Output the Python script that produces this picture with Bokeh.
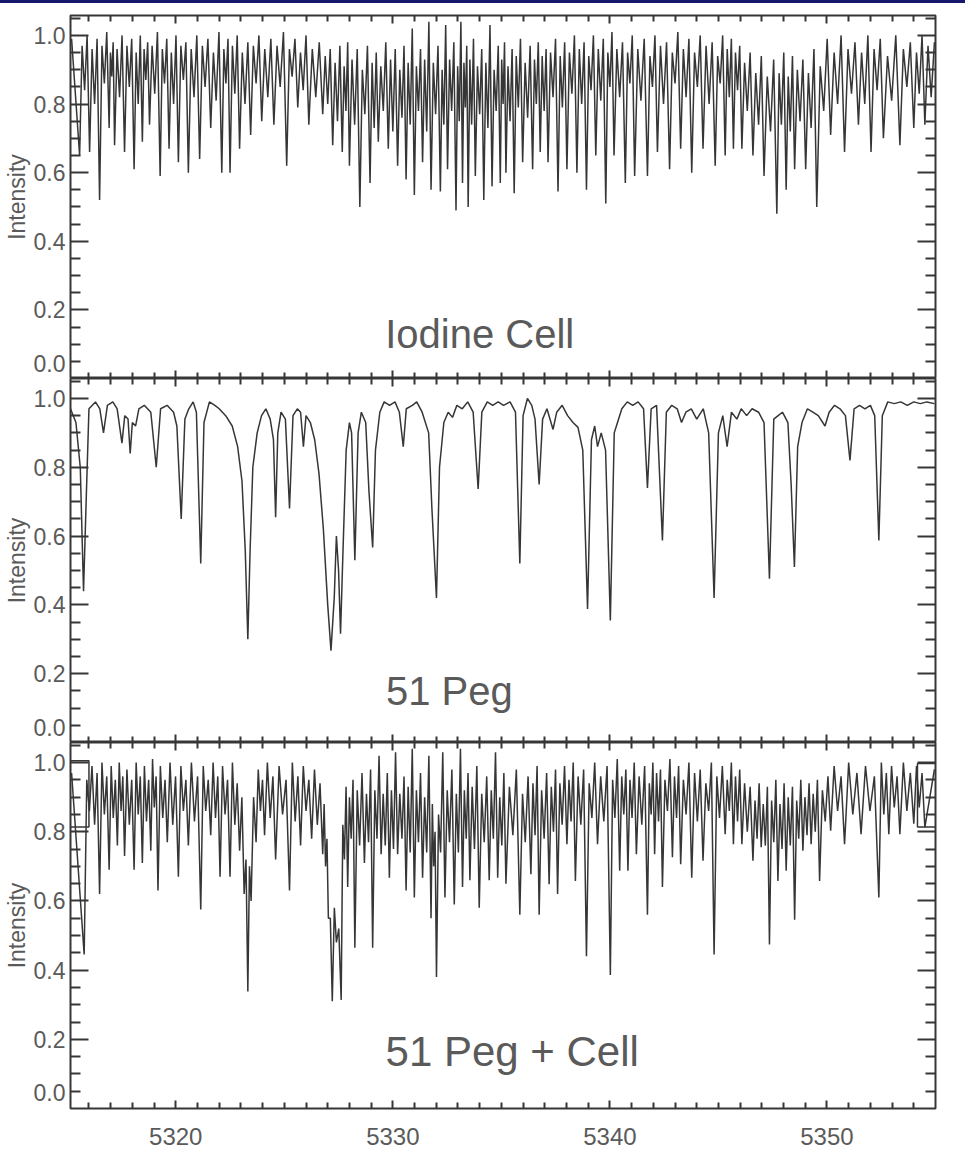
from bokeh.plotting import figure
from bokeh.models import (Range1d, LinearAxis, FixedTicker, PrintfTickFormatter,
                          Label, Div, ColumnDataSource)
from bokeh.layouts import column
from bokeh.embed import file_html
from bokeh.resources import INLINE

# ---------------- data ----------------
x_ticks = [5320, 5330, 5340, 5350]
x_minor = [5316, 5317, 5318, 5319, 5321, 5322, 5323, 5324, 5325, 5326, 5327, 5328, 5329,
           5331, 5332, 5333, 5334, 5335, 5336, 5337, 5338, 5339, 5341, 5342, 5343, 5344,
           5345, 5346, 5347, 5348, 5349, 5351, 5352, 5353, 5354]
y_ticks = [0.2, 0.4, 0.6, 0.8, 1.0]
# tick-label anchors (the "0.0" label is drawn slightly above the panel's bottom edge)
y_label_pos = [0.045, 0.2, 0.4, 0.6, 0.8, 1.0]
y_minor = [0.05, 0.1, 0.15, 0.25, 0.3, 0.35, 0.45, 0.5, 0.55, 0.65, 0.7, 0.75,
           0.85, 0.9, 0.95, 1.05]
panel_titles = ["Iodine Cell", "51 Peg", "51 Peg + Cell"]
spectrum_start = 5315.2
spectrum_end = 5354.95

# Iodine cell: absorption minima (wavelength, intensity) and the peak levels between them
iodine_line_wl = [
    5315.57, 5315.80, 5316.03, 5316.26, 5316.49, 5316.71, 5316.93, 5317.05, 5317.18, 5317.41,
    5317.64, 5317.86, 5318.08, 5318.27, 5318.46, 5318.62, 5318.79, 5319.03, 5319.28, 5319.48,
    5319.69, 5319.90, 5320.12, 5320.35, 5320.58, 5320.84, 5321.10, 5321.35, 5321.61, 5321.86,
    5322.12, 5322.31, 5322.50, 5322.72, 5322.94, 5323.19, 5323.45, 5323.70, 5323.96, 5324.24,
    5324.52, 5324.81, 5325.11, 5325.36, 5325.62, 5325.87, 5326.13, 5326.45, 5326.77, 5327.00,
    5327.23, 5327.45, 5327.67, 5327.84, 5328.00, 5328.24, 5328.48, 5328.71, 5328.95, 5329.14,
    5329.33, 5329.56, 5329.79, 5330.00, 5330.22, 5330.42, 5330.61, 5330.80, 5330.99, 5331.18,
    5331.37, 5331.56, 5331.76, 5331.97, 5332.19, 5332.35, 5332.52, 5332.71, 5332.91, 5333.06,
    5333.21, 5333.34, 5333.47, 5333.63, 5333.80, 5334.00, 5334.19, 5334.38, 5334.57, 5334.76,
    5334.95, 5335.08, 5335.21, 5335.40, 5335.59, 5335.78, 5335.98, 5336.21, 5336.44, 5336.61,
    5336.79, 5336.97, 5337.15, 5337.38, 5337.61, 5337.81, 5338.02, 5338.25, 5338.48, 5338.70,
    5338.92, 5339.13, 5339.35, 5339.58, 5339.81, 5340.00, 5340.19, 5340.45, 5340.71, 5340.92,
    5341.14, 5341.43, 5341.73, 5341.96, 5342.19, 5342.47, 5342.75, 5343.00, 5343.26, 5343.51,
    5343.77, 5344.03, 5344.29, 5344.57, 5344.85, 5345.08, 5345.31, 5345.50, 5345.69, 5345.88,
    5346.08, 5346.33, 5346.59, 5346.85, 5347.10, 5347.40, 5347.69, 5347.90, 5348.12, 5348.31,
    5348.51, 5348.76, 5349.02, 5349.27, 5349.53, 5349.85, 5350.17, 5350.49, 5350.81, 5351.13,
    5351.45, 5351.74, 5352.03, 5352.31, 5352.60, 5352.98, 5353.36, 5353.68, 5354.00, 5354.25,
    5354.51, 5354.80]
iodine_line_flux = [
    0.65, 0.84, 0.66, 0.80, 0.52, 0.86, 0.73, 0.88, 0.68, 0.82,
    0.66, 0.85, 0.61, 0.80, 0.69, 0.87, 0.74, 0.83, 0.59, 0.86,
    0.67, 0.80, 0.63, 0.87, 0.60, 0.82, 0.64, 0.85, 0.73, 0.81,
    0.60, 0.86, 0.60, 0.83, 0.67, 0.80, 0.71, 0.86, 0.75, 0.82,
    0.74, 0.85, 0.62, 0.88, 0.79, 0.84, 0.74, 0.82, 0.77, 0.80,
    0.68, 0.75, 0.66, 0.78, 0.62, 0.74, 0.50, 0.77, 0.57, 0.73,
    0.69, 0.78, 0.67, 0.72, 0.62, 0.76, 0.58, 0.74, 0.535, 0.78,
    0.63, 0.72, 0.55, 0.77, 0.545, 0.74, 0.61, 0.78, 0.49, 0.75,
    0.57, 0.79, 0.50, 0.74, 0.59, 0.77, 0.52, 0.73, 0.56, 0.78,
    0.57, 0.80, 0.60, 0.75, 0.54, 0.79, 0.63, 0.76, 0.61, 0.80,
    0.66, 0.78, 0.63, 0.82, 0.545, 0.79, 0.61, 0.83, 0.60, 0.80,
    0.55, 0.84, 0.65, 0.81, 0.51, 0.85, 0.65, 0.82, 0.57, 0.86,
    0.59, 0.81, 0.59, 0.85, 0.66, 0.80, 0.61, 0.86, 0.67, 0.82,
    0.60, 0.85, 0.67, 0.80, 0.62, 0.86, 0.65, 0.82, 0.67, 0.84,
    0.67, 0.78, 0.65, 0.74, 0.59, 0.72, 0.48, 0.74, 0.55, 0.72,
    0.61, 0.75, 0.61, 0.73, 0.50, 0.78, 0.71, 0.80, 0.66, 0.83,
    0.74, 0.80, 0.66, 0.84, 0.70, 0.81, 0.68, 0.85, 0.73, 0.83,
    0.74, 0.82]
iodine_peak_flux = [
    0.99, 0.97, 1.00, 0.96, 0.99, 0.97, 1.01, 0.95, 0.98, 0.96,
    1.00, 0.97, 0.99, 0.95, 1.00, 0.96, 0.98, 0.97, 1.01, 0.96,
    0.99, 0.95, 1.00, 0.97, 0.98, 0.96, 1.00, 0.97, 0.99, 0.95,
    1.01, 0.96, 0.99, 0.97, 1.00, 0.95, 0.98, 0.97, 1.00, 0.96,
    0.99, 0.97, 1.01, 0.96, 0.99, 0.95, 1.00, 0.96, 0.98, 0.94,
    0.96, 0.92, 0.97, 0.91, 0.98, 0.93, 0.96, 0.90, 0.97, 0.92,
    0.95, 0.91, 0.98, 0.93, 0.96, 0.90, 0.97, 0.92, 1.02, 0.91,
    0.96, 0.93, 1.04, 0.92, 0.97, 0.90, 1.03, 0.93, 0.98, 0.91,
    1.04, 0.92, 0.97, 0.93, 0.99, 0.91, 0.96, 0.92, 1.03, 0.90,
    0.97, 0.93, 0.98, 0.91, 0.96, 0.94, 0.99, 0.92, 0.97, 0.93,
    0.98, 0.94, 0.96, 0.95, 0.99, 0.94,
    0.98, 0.95, 1.00, 0.96, 0.98, 0.94, 1.00, 0.96, 0.99, 0.95,
    1.01, 0.96, 0.98, 0.95, 1.00, 0.96, 0.99, 0.94, 1.00, 0.97,
    0.98, 0.95, 1.01, 0.96, 0.99, 0.95, 1.00, 0.97, 0.98, 0.94,
    1.00, 0.96, 0.99, 0.95,
    0.97, 0.92, 0.95, 0.89, 0.94, 0.88, 0.93, 0.89, 0.95, 0.88,
    0.94, 0.90, 0.93, 0.89, 0.96, 0.91,
    0.99, 0.95, 1.00, 0.96, 0.98, 0.95, 1.00, 0.96, 0.99, 0.94,
    1.00, 0.96, 0.98, 0.95, 1.00, 0.97, 0.98]

# 51 Peg: spectrum vertices (wavelength, intensity)
peg_wl = [
    5315.15, 5315.40, 5315.60, 5315.75, 5315.88, 5316.00, 5316.30, 5316.50, 5316.67, 5316.85,
    5317.10, 5317.30, 5317.52, 5317.65, 5317.80, 5317.90, 5318.00, 5318.15, 5318.30, 5318.55,
    5318.85, 5319.10, 5319.30, 5319.60, 5319.90, 5320.05, 5320.25, 5320.42, 5320.60, 5320.80,
    5320.95, 5321.15, 5321.30, 5321.55, 5321.80, 5322.00, 5322.30, 5322.60, 5322.85, 5323.05,
    5323.20, 5323.32, 5323.42, 5323.55, 5323.75, 5323.95, 5324.15, 5324.35, 5324.50, 5324.60,
    5324.70, 5324.85, 5325.05, 5325.24, 5325.40, 5325.60, 5325.75, 5325.88, 5326.00, 5326.20,
    5326.40, 5326.60, 5326.80, 5327.00, 5327.15, 5327.30, 5327.40, 5327.50, 5327.59, 5327.70,
    5327.85, 5328.00, 5328.10, 5328.25, 5328.40, 5328.55, 5328.75, 5328.90, 5329.07, 5329.20,
    5329.40, 5329.60, 5329.85, 5330.10, 5330.30, 5330.48, 5330.62, 5330.90, 5331.10, 5331.35,
    5331.65, 5331.80, 5332.01, 5332.15, 5332.35, 5332.55, 5332.75, 5332.95, 5333.20, 5333.45,
    5333.70, 5333.93, 5334.10, 5334.35, 5334.60, 5334.85, 5335.10, 5335.40, 5335.65, 5335.85,
    5336.00, 5336.20, 5336.40, 5336.55, 5336.74, 5336.90, 5337.10, 5337.38, 5337.55, 5337.80,
    5338.05, 5338.30, 5338.53, 5338.75, 5338.97, 5339.15, 5339.30, 5339.43, 5339.60, 5339.80,
    5340.02, 5340.20, 5340.35, 5340.55, 5340.80, 5341.05, 5341.30, 5341.55, 5341.73, 5341.90,
    5342.15, 5342.42, 5342.60, 5342.85, 5343.10, 5343.30, 5343.50, 5343.75, 5344.00, 5344.30,
    5344.55, 5344.80, 5345.00, 5345.20, 5345.40, 5345.60, 5345.85, 5346.05, 5346.30, 5346.55,
    5346.85, 5347.10, 5347.35, 5347.55, 5347.75, 5347.95, 5348.20, 5348.35, 5348.50, 5348.65,
    5348.85, 5349.10, 5349.35, 5349.60, 5349.91, 5350.10, 5350.35, 5350.60, 5350.85, 5351.06,
    5351.25, 5351.50, 5351.75, 5352.00, 5352.20, 5352.39, 5352.55, 5352.80, 5353.10, 5353.40,
    5353.70, 5354.00, 5354.30, 5354.60, 5354.95]
peg_flux = [
    0.97, 0.93, 0.80, 0.44, 0.72, 0.97, 0.99, 0.97, 0.90, 0.98,
    0.99, 0.97, 0.87, 0.95, 0.94, 0.84, 0.93, 0.92, 0.97, 0.98,
    0.96, 0.80, 0.97, 0.98, 0.96, 0.92, 0.65, 0.94, 0.97, 0.99,
    0.96, 0.52, 0.93, 0.99, 0.98, 0.97, 0.95, 0.92, 0.86, 0.76,
    0.56, 0.30, 0.55, 0.80, 0.90, 0.95, 0.97, 0.94, 0.88, 0.655,
    0.90, 0.96, 0.94, 0.68, 0.95, 0.97, 0.96, 0.86, 0.95, 0.93,
    0.88, 0.78, 0.62, 0.40, 0.267, 0.42, 0.60, 0.50, 0.316, 0.55,
    0.85, 0.93, 0.90, 0.53, 0.90, 0.96, 0.93, 0.73, 0.567, 0.85,
    0.96, 0.99, 0.98, 0.99, 0.96, 0.86, 0.97, 0.98, 0.99, 0.96,
    0.90, 0.68, 0.42, 0.80, 0.93, 0.96, 0.945, 0.98, 0.97, 0.99,
    0.96, 0.737, 0.96, 0.99, 0.98, 0.99, 0.98, 0.99, 0.96, 0.52,
    0.95, 1.00, 0.98, 0.94, 0.75, 0.94, 0.97, 0.91, 0.96, 0.98,
    0.95, 0.93, 0.916, 0.85, 0.388, 0.88, 0.92, 0.86, 0.90, 0.85,
    0.355, 0.90, 0.93, 0.97, 0.99, 0.98, 0.99, 0.97, 0.74, 0.97,
    0.98, 0.587, 0.96, 0.98, 0.97, 0.93, 0.96, 0.97, 0.94, 0.97,
    0.90, 0.42, 0.90, 0.95, 0.86, 0.96, 0.94, 0.97, 0.95, 0.97,
    0.96, 0.93, 0.476, 0.94, 0.95, 0.96, 0.93, 0.75, 0.51, 0.86,
    0.93, 0.97, 0.96, 0.95, 0.92, 0.96, 0.98, 0.97, 0.95, 0.82,
    0.97, 0.98, 0.97, 0.98, 0.95, 0.587, 0.95, 0.99, 0.985, 0.99,
    0.98, 0.99, 0.985, 0.99, 0.985]

# 51 Peg + Cell: absorption minima and the peak levels between them
combo_line_wl = [
    5315.78, 5316.02, 5316.26, 5316.49, 5316.71, 5316.93, 5317.12, 5317.31, 5317.48, 5317.64,
    5317.86, 5318.08, 5318.27, 5318.46, 5318.65, 5318.85, 5319.01, 5319.18, 5319.40, 5319.61,
    5319.86, 5320.12, 5320.35, 5320.58, 5320.86, 5321.15, 5321.38, 5321.61, 5321.83, 5322.04,
    5322.27, 5322.50, 5322.72, 5322.94, 5323.15, 5323.32, 5323.47, 5323.70, 5323.90, 5324.09,
    5324.35, 5324.60, 5324.92, 5325.24, 5325.50, 5325.75, 5326.00, 5326.26, 5326.52, 5326.77,
    5326.90, 5327.03, 5327.21, 5327.40, 5327.62, 5327.77, 5327.92, 5328.08, 5328.25, 5328.47,
    5328.69, 5328.88, 5329.07, 5329.27, 5329.46, 5329.65, 5329.84, 5330.03, 5330.22, 5330.42,
    5330.61, 5330.80, 5330.99, 5331.18, 5331.37, 5331.56, 5331.76, 5331.88, 5332.01, 5332.20,
    5332.40, 5332.61, 5332.83, 5333.02, 5333.21, 5333.38, 5333.55, 5333.76, 5333.98, 5334.21,
    5334.44, 5334.63, 5334.83, 5335.02, 5335.21, 5335.53, 5335.85, 5336.10, 5336.36, 5336.55,
    5336.74, 5336.97, 5337.20, 5337.40, 5337.59, 5337.80, 5338.02, 5338.21, 5338.41, 5338.66,
    5338.92, 5339.17, 5339.43, 5339.72, 5340.02, 5340.23, 5340.45, 5340.64, 5340.83, 5341.02,
    5341.22, 5341.47, 5341.73, 5341.90, 5342.06, 5342.24, 5342.42, 5342.65, 5342.88, 5343.07,
    5343.26, 5343.51, 5343.77, 5344.03, 5344.29, 5344.55, 5344.80, 5345.05, 5345.31, 5345.50,
    5345.69, 5345.88, 5346.08, 5346.33, 5346.59, 5346.78, 5346.97, 5347.16, 5347.35, 5347.55,
    5347.74, 5347.93, 5348.12, 5348.31, 5348.51, 5348.70, 5348.89, 5349.08, 5349.27, 5349.46,
    5349.66, 5349.92, 5350.17, 5350.49, 5350.81, 5351.19, 5351.57, 5351.98, 5352.39, 5352.62,
    5352.85, 5353.10, 5353.36, 5353.68, 5354.00, 5354.25, 5354.51]
combo_line_flux = [
    0.445, 0.86, 0.82, 0.62, 0.85, 0.69, 0.84, 0.76, 0.86, 0.73,
    0.82, 0.69, 0.85, 0.71, 0.83, 0.745, 0.87, 0.63, 0.84, 0.77,
    0.82, 0.67, 0.86, 0.76, 0.83, 0.575, 0.86, 0.79, 0.84, 0.67,
    0.85, 0.67, 0.82, 0.745, 0.62, 0.338, 0.60, 0.77, 0.86, 0.79,
    0.84, 0.72, 0.85, 0.63, 0.83, 0.76, 0.86, 0.78, 0.82, 0.735,
    0.70, 0.55, 0.31, 0.48, 0.314, 0.72, 0.64, 0.78, 0.465, 0.76,
    0.71, 0.77, 0.465, 0.78, 0.735, 0.76, 0.667, 0.75, 0.735, 0.78,
    0.63, 0.74, 0.61, 0.77, 0.667, 0.74, 0.55, 0.70, 0.38, 0.74,
    0.61, 0.77, 0.59, 0.74, 0.64, 0.78, 0.66, 0.75, 0.58, 0.77,
    0.66, 0.78, 0.667, 0.76, 0.65, 0.79, 0.56, 0.77, 0.677, 0.79,
    0.56, 0.78, 0.648, 0.80, 0.62, 0.82, 0.764, 0.83, 0.658, 0.82,
    0.44, 0.84, 0.764, 0.83, 0.386, 0.84, 0.687, 0.85, 0.687, 0.84,
    0.735, 0.82, 0.56, 0.85, 0.735, 0.83, 0.64, 0.86, 0.726, 0.84,
    0.706, 0.85, 0.667, 0.83, 0.716, 0.86, 0.445, 0.84, 0.793, 0.86,
    0.764, 0.83, 0.764, 0.80, 0.716, 0.78, 0.755, 0.76, 0.474, 0.77,
    0.658, 0.75, 0.687, 0.76, 0.546, 0.78, 0.745, 0.79, 0.764, 0.80,
    0.658, 0.83, 0.803, 0.86, 0.764, 0.85, 0.793, 0.86, 0.61, 0.85,
    0.793, 0.87, 0.793, 0.86, 0.823, 0.87, 0.813]
combo_peak_flux = [
    0.97, 0.95, 0.99, 0.97, 1.00, 0.96, 0.99, 0.95, 1.00, 0.96,
    0.98, 0.95, 1.00, 0.96, 0.99, 0.95, 1.01, 0.96, 0.99, 0.95,
    1.00, 0.96, 0.99, 0.95, 1.00, 0.96, 0.99, 0.95, 1.00, 0.96,
    0.99, 0.95, 1.00, 0.94, 0.90, 0.72, 0.70, 0.90, 0.98, 0.95,
    1.00, 0.96, 0.99, 0.95, 1.00, 0.96, 0.99, 0.95, 0.98, 0.94,
    0.88, 0.78, 0.55, 0.58, 0.52, 0.82, 0.93, 0.90, 0.95, 0.92,
    0.97, 0.91, 0.98, 0.92, 1.02, 0.91, 0.97, 0.92, 1.03, 0.91,
    0.96, 0.93, 1.04, 0.92, 0.97, 0.90, 1.02, 0.88, 0.80, 0.85,
    1.03, 0.92, 0.98, 0.91, 1.04, 0.92, 0.97, 0.93, 0.99, 0.91,
    0.96, 0.92, 1.03, 0.90, 0.97, 0.93, 0.98, 0.91, 0.96, 0.94,
    0.99, 0.92, 0.97, 0.93, 0.98, 0.94, 0.99, 0.95, 1.00, 0.96,
    0.98, 0.94, 1.00, 0.96, 0.99, 0.95, 1.01, 0.96, 0.98, 0.95,
    1.00, 0.96, 0.99, 0.94, 1.00, 0.97, 0.98, 0.95, 1.01, 0.96,
    0.99, 0.95, 1.00, 0.97, 0.98, 0.94, 1.00, 0.96, 0.99, 0.95,
    1.00, 0.96, 0.98, 0.94, 0.93, 0.89, 0.94, 0.88, 0.93, 0.89,
    0.95, 0.88, 0.94, 0.90, 0.93, 0.89, 0.95, 0.90, 0.94, 0.91,
    0.95, 0.92, 0.96, 0.99, 0.96, 1.00, 0.97, 0.99, 0.96, 1.00,
    0.97, 0.99, 0.96, 1.00, 0.97, 0.99, 0.97, 0.98]

# 51 Peg + Cell: the bracket-shaped strokes at both ends of the trace
combo_edge_left_wl = [5315.0, 5316.0, 5316.0, 5315.0]
combo_edge_left_flux = [1.005, 1.005, 0.814, 0.814]
combo_edge_right_wl = [5355.3, 5354.17, 5354.17, 5355.3]
combo_edge_right_flux = [0.997, 0.997, 0.814, 0.814]


# ---------------- helpers ----------------
def trace(line_wl, line_flux, peak_flux, start, end):
    """Join minima with the read peak levels between them into one polyline."""
    n = min(len(line_wl), len(line_flux))
    xs, ys = [start], [peak_flux[0]]
    for i in range(n):
        xs.append(line_wl[i])
        ys.append(line_flux[i])
        if i < n - 1:
            xs.append(0.5 * (line_wl[i] + line_wl[i + 1]))
            ys.append(peak_flux[min(i + 1, len(peak_flux) - 1)])
    xs.append(end)
    ys.append(peak_flux[min(n, len(peak_flux) - 1)])
    return xs, ys


FONT = "Liberation Sans"
INK = "#363636"
TXT = "#5a5a5a"
LINE_INK = "#363636"
LINE_W = 1.5
x_range = Range1d(5315.15, 5355.0)


def tick_only(p, side, positions, length):
    """An axis that draws only inward ticks (no labels)."""
    ax = LinearAxis(ticker=FixedTicker(ticks=[], minor_ticks=positions))
    ax.axis_line_color = None
    ax.major_tick_in = 0
    ax.major_tick_out = 0
    ax.minor_tick_in = length
    ax.minor_tick_out = 0
    ax.minor_tick_line_color = INK
    ax.minor_tick_line_width = 2
    ax.major_label_standoff = 0
    p.add_layout(ax, side)


def make_panel(frame_h, top_border, bottom_border, show_x_labels, title, tx, ty, tsize):
    p = figure(x_range=x_range, y_range=Range1d(0.0, 1.058),
               frame_width=865, frame_height=frame_h,
               min_border_left=68, min_border_right=32,
               min_border_top=top_border, min_border_bottom=bottom_border,
               x_axis_location=None, y_axis_location=None,
               output_backend="svg", toolbar_location=None,
               background_fill_color="white", border_fill_color="white")
    p.xgrid.visible = False
    p.ygrid.visible = False
    p.outline_line_color = INK
    p.outline_line_width = 2

    # left: ticks first (closest to the frame), then the labelled axis
    tick_only(p, "left", y_minor, 10)
    tick_only(p, "left", y_ticks, 18)
    left = LinearAxis(ticker=FixedTicker(ticks=y_label_pos, minor_ticks=[]),
                      formatter=PrintfTickFormatter(format="%.1f"))
    left.axis_line_color = None
    left.major_tick_in = 0
    left.major_tick_out = 0
    left.minor_tick_in = 0
    left.minor_tick_out = 0
    left.major_label_text_font = FONT
    left.major_label_text_font_size = "23px"
    left.major_label_text_color = TXT
    left.major_label_standoff = 5
    left.axis_label = "Intensity"
    left.axis_label_text_font = FONT
    left.axis_label_text_font_size = "23px"
    left.axis_label_text_font_style = "normal"
    left.axis_label_text_color = TXT
    left.axis_label_standoff = 1
    p.add_layout(left, "left")

    tick_only(p, "right", y_minor, 10)
    tick_only(p, "right", y_ticks, 18)

    if show_x_labels:
        bottom = LinearAxis(ticker=FixedTicker(ticks=x_ticks, minor_ticks=x_minor))
        bottom.axis_line_color = None
        bottom.major_tick_in = 8
        bottom.major_tick_out = 0
        bottom.minor_tick_in = 6
        bottom.minor_tick_out = 0
        bottom.major_tick_line_color = INK
        bottom.minor_tick_line_color = INK
        bottom.major_tick_line_width = 2
        bottom.minor_tick_line_width = 2
        bottom.major_label_text_font = FONT
        bottom.major_label_text_font_size = "24px"
        bottom.major_label_text_color = TXT
        bottom.major_label_standoff = 19
        p.add_layout(bottom, "below")
    else:
        tick_only(p, "below", x_minor, 6)
        tick_only(p, "below", x_ticks, 8)

    tick_only(p, "above", x_minor, 6)
    tick_only(p, "above", x_ticks, 8)

    p.add_layout(Label(x=tx, y=ty, text=title, text_font=FONT,
                       text_font_size=tsize, text_color=TXT,
                       text_align="center", text_baseline="alphabetic"))
    return p


# Panel 1: iodine cell
p1 = make_panel(363, 12, 0, False, panel_titles[0], 5334.0, 0.13, "40px")
ix, iy = trace(iodine_line_wl, iodine_line_flux, iodine_peak_flux,
               spectrum_start, spectrum_end)
p1.line(x="x", y="y", source=ColumnDataSource(dict(x=ix, y=iy)),
        line_color=LINE_INK, line_width=LINE_W)

# Panel 2: 51 Peg
p2 = make_panel(364, 0, 0, False, panel_titles[1], 5332.6, 0.15, "40px")
p2.line(x="x", y="y", source=ColumnDataSource(dict(x=peg_wl, y=peg_flux)),
        line_color=LINE_INK, line_width=LINE_W)

# Panel 3: 51 Peg + Cell
p3 = make_panel(366, 0, 46, True, panel_titles[2], 5335.5, 0.165, "42px")
cx, cy = trace(combo_line_wl, combo_line_flux, combo_peak_flux,
               spectrum_start, spectrum_end)
p3.line(x="x", y="y", source=ColumnDataSource(dict(x=cx, y=cy)),
        line_color=LINE_INK, line_width=LINE_W)
p3.line(x="x", y="y",
        source=ColumnDataSource(dict(x=combo_edge_left_wl, y=combo_edge_left_flux)),
        line_color=LINE_INK, line_width=LINE_W)
p3.line(x="x", y="y",
        source=ColumnDataSource(dict(x=combo_edge_right_wl, y=combo_edge_right_flux)),
        line_color=LINE_INK, line_width=LINE_W)

bar = Div(text="", width=965, height=3, margin=(0, 0, 0, 0),
          styles={"background-color": "#16166a"})

layout = column(bar, p1, p2, p3, spacing=0)
open("out.html", "w").write(file_html(layout, INLINE))
